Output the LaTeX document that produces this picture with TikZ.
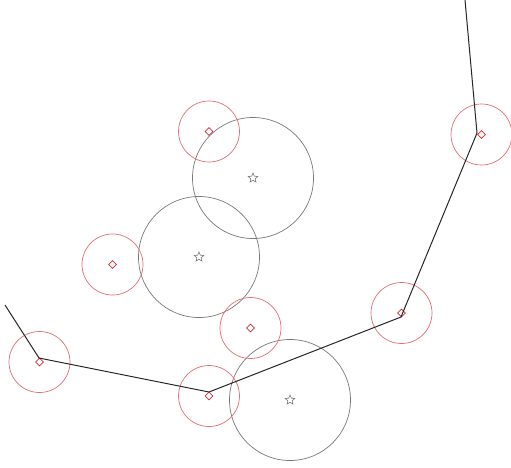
\documentclass[tikz,border=0pt]{standalone}
\usetikzlibrary{shapes.geometric}
\definecolor{ringred}{RGB}{225,110,115}
\definecolor{mkred}{RGB}{215,40,50}
\definecolor{ringgray}{RGB}{120,120,120}
\tikzset{
  redring/.style={draw=ringred, line width=0.7pt},
  grayring/.style={draw=ringgray, line width=0.7pt},
  dmark/.style={diamond, draw=mkred, line width=0.8pt, minimum size=8pt, inner sep=0pt},
  smark/.style={star, star points=5, star point ratio=2.2, draw=ringgray, line width=0.6pt, minimum size=10pt, inner sep=0pt},
  path/.style={draw=black!85, line width=1pt}
}
\begin{document}
\begin{tikzpicture}[x=1pt,y=-1pt]
\useasboundingbox (0,0) rectangle (511,467);
% gray rings with stars
\node[smark] (s1) at (253,178) {};
\node[smark] (s2) at (199,257) {};
\node[smark] (s3) at (290,400) {};
\draw[grayring] (s1) circle (60.5);
\draw[grayring] (s2) circle (60.5);
\draw[grayring] (s3) circle (60.5);
% red rings with diamonds
\node[dmark] (a) at (209,131.5) {};
\node[dmark] (b) at (112.5,264.5) {};
\node[dmark] (c) at (250.5,328) {};
\node[dmark] (d) at (39.5,362) {};
\node[dmark] (e) at (209,396) {};
\node[dmark] (f) at (401.5,313) {};
\node[dmark] (g) at (481.5,134.5) {};
\foreach \n in {a,b,c,d,e,f,g} \draw[redring] (\n) circle (30.5);
% polyline
\coordinate (p0) at (5,305);
\coordinate (p1) at (39,358);
\coordinate (p2) at (209,392);
\coordinate (p3) at (401,317);
\coordinate (p4) at (477,133);
\coordinate (p5) at (465,0);
\draw[path] (p0) -- (p1) -- (p2) -- (p3) -- (p4) -- (p5);
\end{tikzpicture}
\end{document}
